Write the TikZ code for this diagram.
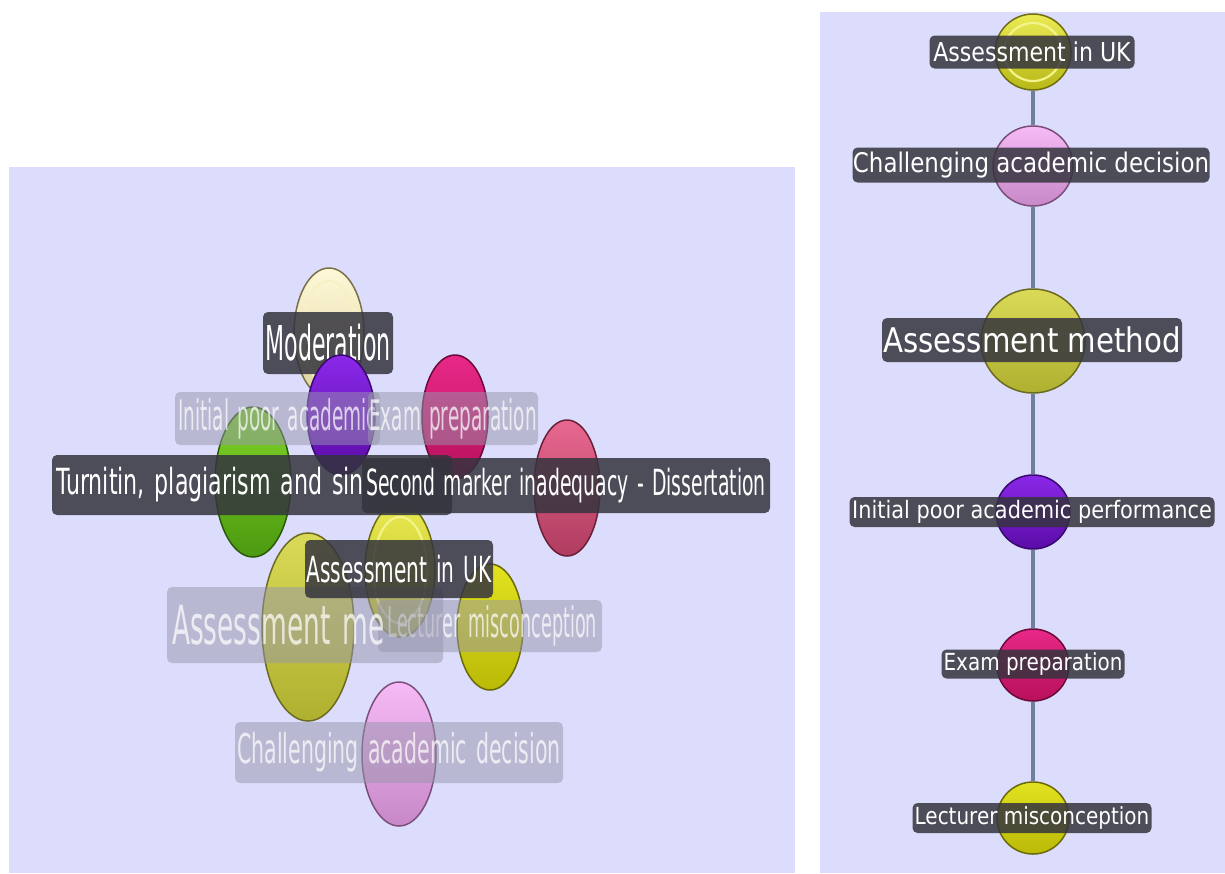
\documentclass[tikz,border=0pt]{standalone}
\usepackage{fontspec}
\usepackage{graphicx}
\setmainfont{DejaVu Sans}
\newfontfamily\wideface[WordSpace=1.4]{DejaVu Sans}
\usetikzlibrary{shapes.geometric}

% label text: size, horizontal squeeze, text
\newcommand{\lbltxt}[3]{\scalebox{#2}[1]{\fontsize{#1}{#1}\selectfont #3}}
% same, with the roomier word spacing of the perspective view
\newcommand{\widetxt}[3]{\scalebox{#2}[1]{\wideface\fontsize{#1}{#1}\selectfont #3}}

\definecolor{panel}{RGB}{220,220,252}
\definecolor{tagdark}{RGB}{52,52,62}
\definecolor{tagdim}{RGB}{150,150,172}
\definecolor{linkc}{RGB}{110,128,160}

\definecolor{ukTop}{RGB}{234,234,84}
\definecolor{ukBot}{RGB}{184,184,24}
\definecolor{ukLine}{RGB}{110,110,16}
\definecolor{ukRing}{RGB}{244,244,140}
\definecolor{chalTop}{RGB}{246,186,246}
\definecolor{chalBot}{RGB}{200,136,200}
\definecolor{chalLine}{RGB}{122,80,122}
\definecolor{methTop}{RGB}{218,218,88}
\definecolor{methBot}{RGB}{176,176,48}
\definecolor{methLine}{RGB}{106,106,32}
\definecolor{initTop}{RGB}{138,40,232}
\definecolor{initBot}{RGB}{90,12,168}
\definecolor{initLine}{RGB}{58,8,112}
\definecolor{examTop}{RGB}{232,40,136}
\definecolor{examBot}{RGB}{184,16,92}
\definecolor{examLine}{RGB}{106,10,56}
\definecolor{lectTop}{RGB}{226,226,32}
\definecolor{lectBot}{RGB}{186,186,8}
\definecolor{lectLine}{RGB}{106,106,8}
\definecolor{turnTop}{RGB}{128,212,40}
\definecolor{turnBot}{RGB}{76,154,16}
\definecolor{turnLine}{RGB}{42,90,8}
\definecolor{modTop}{RGB}{255,248,216}
\definecolor{modBot}{RGB}{220,212,160}
\definecolor{modLine}{RGB}{122,112,72}
\definecolor{modRing}{RGB}{248,240,196}
\definecolor{secTop}{RGB}{232,104,144}
\definecolor{secBot}{RGB}{176,60,96}
\definecolor{secLine}{RGB}{106,32,56}

\tikzset{
  bubble/.style={ellipse, inner sep=0pt, line width=1.5pt},
  ball/.style n args={3}{top color=#1, bottom color=#2, draw=#3},
  ring/.style={ellipse, inner sep=0pt, line width=2.2pt},
  tag/.style={rounded corners=5pt, fill=tagdark, fill opacity=0.85,
    text=white, text opacity=1, inner sep=0pt},
  dimtag/.style={rounded corners=5pt, fill=tagdim, fill opacity=0.5,
    text=white, text opacity=0.72, inner sep=0pt},
  link/.style={draw=linkc, line width=3.5pt}
}

\begin{document}
\begin{tikzpicture}[x=1pt,y=-1pt]
\useasboundingbox (0,0) rectangle (1225,873);
\fill[white] (0,0) rectangle (1225,873);
\fill[panel] (9,167) rectangle (795,873);
\fill[panel] (820,12) rectangle (1225,873);

% ---------- left view: perspective cluster ----------
\node[bubble, ball={modTop}{modBot}{modLine}, minimum width=70pt, minimum height=130pt] (lMod) at (329,333) {};
\node[ring, draw=modRing, minimum width=54pt, minimum height=104pt] (lModRing) at (329,333) {};
\node[tag, minimum width=130pt, minimum height=62pt] (tMod) at (328,343) {\widetxt{48}{0.46}{Moderation}};

\node[bubble, ball={turnTop}{turnBot}{turnLine}, minimum width=76pt, minimum height=150pt] (lTurn) at (253,482) {};
\node[bubble, ball={initTop}{initBot}{initLine}, minimum width=68pt, minimum height=120pt] (lInit) at (341,415) {};
\node[bubble, ball={examTop}{examBot}{examLine}, minimum width=66pt, minimum height=124pt] (lExam) at (455,417) {};
\node[bubble, ball={secTop}{secBot}{secLine}, minimum width=66pt, minimum height=136pt] (lSec) at (567,488) {};

\node[bubble, ball={ukTop}{ukBot}{ukLine}, minimum width=70pt, minimum height=134pt] (lUK) at (400,570) {};
\node[ring, draw=ukRing, minimum width=54pt, minimum height=106pt] (lUKRing) at (400,570) {};
\node[bubble, ball={methTop}{methBot}{methLine}, minimum width=92pt, minimum height=188pt] (lMeth) at (308,627) {};
\node[bubble, ball={lectTop}{lectBot}{lectLine}, minimum width=66pt, minimum height=126pt] (lLect) at (490,627) {};
\node[bubble, ball={chalTop}{chalBot}{chalLine}, minimum width=74pt, minimum height=144pt] (lChal) at (399,754) {};

% faded captions of the far nodes
\node[dimtag, minimum width=205pt, minimum height=53pt] (tInit) at (277.5,418.5) {\widetxt{42}{0.44}{Initial poor academic}};
\node[dimtag, minimum width=170pt, minimum height=53pt] (tExam) at (453,418.5) {\widetxt{42}{0.44}{Exam preparation}};
\node[dimtag, minimum width=224pt, minimum height=52pt] (tLect) at (490,626) {\makebox[214pt][r]{\widetxt{42}{0.42}{Lecturer misconception}}};
\node[dimtag, minimum width=276pt, minimum height=76pt] (tMeth) at (305,625) {\makebox[266pt][l]{\widetxt{54}{0.49}{Assessment me}}};
\node[dimtag, minimum width=328pt, minimum height=61pt] (tChal) at (399,752.5) {\widetxt{41}{0.5}{Challenging academic decision}};

% captions of the near nodes
\node[tag, minimum width=400pt, minimum height=60pt] (tTurn) at (252,485) {\makebox[392pt][l]{\widetxt{36}{0.615}{Turnitin, plagiarism and sin}}};
\node[tag, minimum width=408pt, minimum height=55pt] (tSec) at (566,485.5) {\widetxt{36}{0.523}{Second marker inadequacy - Dissertation}};
\node[tag, minimum width=188pt, minimum height=58pt] (tUK) at (399,569) {\widetxt{36}{0.56}{Assessment in UK}};

% ---------- right view: chain ----------
\node[bubble, ball={ukTop}{ukBot}{ukLine}, minimum width=76pt, minimum height=76pt] (rUK) at (1033,52) {};
\node[ring, draw=ukRing, minimum width=58pt, minimum height=58pt] (rUKRing) at (1033,52) {};
\node[bubble, ball={chalTop}{chalBot}{chalLine}, minimum width=80pt, minimum height=80pt] (rChal) at (1033,166) {};
\node[bubble, ball={methTop}{methBot}{methLine}, minimum width=104pt, minimum height=104pt] (rMeth) at (1033,341) {};
\node[bubble, ball={initTop}{initBot}{initLine}, minimum width=74pt, minimum height=74pt] (rInit) at (1033,512) {};
\node[bubble, ball={examTop}{examBot}{examLine}, minimum width=72pt, minimum height=72pt] (rExam) at (1033,665) {};
\node[bubble, ball={lectTop}{lectBot}{lectLine}, minimum width=72pt, minimum height=72pt] (rLect) at (1033,818) {};

\draw[link] (rUK) -- (rChal);
\draw[link] (rChal) -- (rMeth);
\draw[link] (rMeth) -- (rInit);
\draw[link] (rInit) -- (rExam);
\draw[link] (rExam) -- (rLect);

\node[tag, minimum width=205pt, minimum height=33pt] (sUK) at (1032,52) {\lbltxt{26}{0.85}{Assessment in UK}};
\node[tag, minimum width=357pt, minimum height=35pt] (sChal) at (1031,165) {\lbltxt{27}{0.85}{Challenging academic decision}};
\node[tag, minimum width=300pt, minimum height=44pt] (sMeth) at (1032,340) {\lbltxt{34}{0.86}{Assessment method}};
\node[tag, minimum width=365pt, minimum height=30pt] (sInit) at (1032,512) {\lbltxt{24}{0.87}{Initial poor academic performance}};
\node[tag, minimum width=183pt, minimum height=29pt] (sExam) at (1033,664) {\lbltxt{23.5}{0.85}{Exam preparation}};
\node[tag, minimum width=239pt, minimum height=30pt] (sLect) at (1032,818) {\lbltxt{23.5}{0.85}{Lecturer misconception}};
\end{tikzpicture}
\end{document}
